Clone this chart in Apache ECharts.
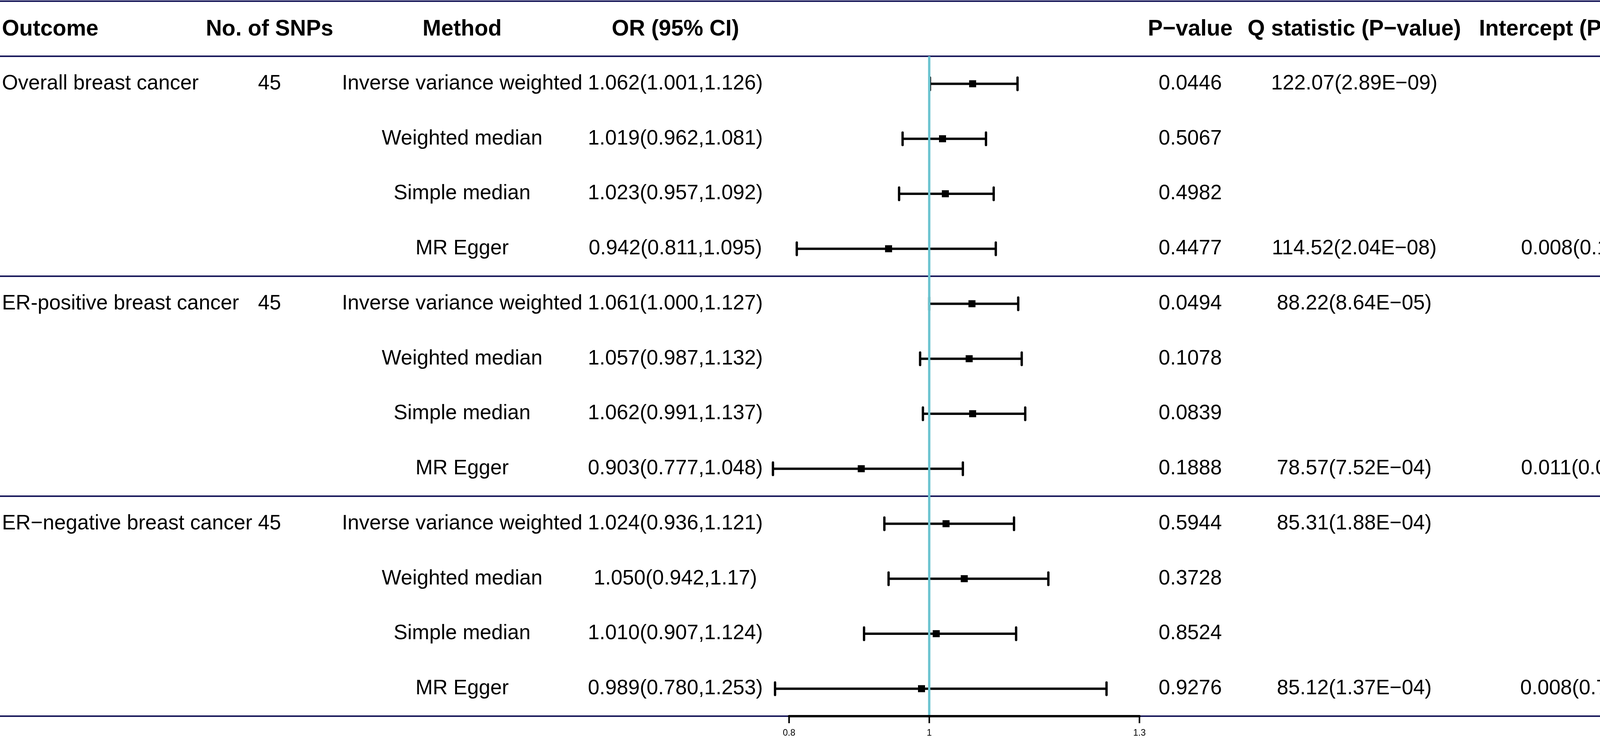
<!DOCTYPE html>
<html>
<head>
<meta charset="utf-8">
<title>MR forest plot</title>
<script src="https://cdn.jsdelivr.net/npm/echarts@6/dist/echarts.min.js"></script>
<style>
  html, body { margin: 0; padding: 0; background: #fff; }
  #main { width: 4316px; height: 1894px; }
</style>
</head>
<body>
<div id="main"></div>
<script>
// table data
var outcomes = ['Overall breast cancer', 'ER-positive breast cancer', 'ER\u2212negative breast cancer'];
var snpCounts = ['45', '45', '45'];
var methods = ['Inverse variance weighted', 'Weighted median', 'Simple median', 'MR Egger'];

var orEst  = [1.062, 1.019, 1.023, 0.942, 1.061, 1.057, 1.062, 0.903, 1.024, 1.050, 1.010, 0.989];
var ciLow  = [1.001, 0.962, 0.957, 0.811, 1.000, 0.987, 0.991, 0.777, 0.936, 0.942, 0.907, 0.780];
var ciHigh = [1.126, 1.081, 1.092, 1.095, 1.127, 1.132, 1.137, 1.048, 1.121, 1.170, 1.124, 1.253];

var orText = ['1.062(1.001,1.126)', '1.019(0.962,1.081)', '1.023(0.957,1.092)', '0.942(0.811,1.095)',
              '1.061(1.000,1.127)', '1.057(0.987,1.132)', '1.062(0.991,1.137)', '0.903(0.777,1.048)',
              '1.024(0.936,1.121)', '1.050(0.942,1.17)', '1.010(0.907,1.124)', '0.989(0.780,1.253)'];
var pText = ['0.0446', '0.5067', '0.4982', '0.4477', '0.0494', '0.1078', '0.0839', '0.1888',
             '0.5944', '0.3728', '0.8524', '0.9276'];
var qText = ['122.07(2.89E\u221209)', '', '', '114.52(2.04E\u221208)',
             '88.22(8.64E\u221205)', '', '', '78.57(7.52E\u221204)',
             '85.31(1.88E\u221204)', '', '', '85.12(1.37E\u221204)'];
var interceptText = ['', '', '', '0.008(0.110)', '', '', '', '0.011(0.056)', '', '', '', '0.008(0.752)'];

var headers = ['Outcome', 'No. of SNPs', 'Method', 'OR (95% CI)', 'P\u2212value',
               'Q statistic (P\u2212value)', 'Intercept (P\u2212value)'];
var xTicks = [0.8, 1, 1.3];

// layout
var FONT = '"Liberation Sans", Arial, sans-serif';
var colX = [5, 690, 1183, 1729, 3047, 3467, 4042];
var colAlign = ['left', 'center', 'center', 'center', 'center', 'center', 'center'];
var navy = '#1a1a5c';
var cyan = '#6cc4d0';

var rowIds = [];
for (var i = 0; i < orEst.length; i++) rowIds.push(String(i));

var myChart = echarts.init(document.getElementById('main'), null, { renderer: 'canvas' });

function txt(s, x, y, align) {
  return {
    type: 'text',
    style: { text: s, x: x, y: y, fill: '#000', fontSize: 53, fontFamily: FONT,
             align: align, verticalAlign: 'middle' }
  };
}

// table text + horizontal rules
function renderRow(params, api) {
  var i = api.value(1);
  var y = api.coord([1, i])[1];
  var band = api.size([0, 1])[1];
  var g = Math.floor(i / 4), m = i % 4;
  var kids = [];
  if (m === 0) {
    kids.push(txt(outcomes[g], colX[0], y, colAlign[0]));
    kids.push(txt(snpCounts[g], colX[1], y, colAlign[1]));
    kids.push({ type: 'line', shape: { x1: 0, y1: y - band / 2, x2: api.getWidth(), y2: y - band / 2 },
                style: { stroke: navy, lineWidth: 4 } });
  }
  if (i === orEst.length - 1) {
    kids.push({ type: 'line', shape: { x1: 0, y1: y + band / 2, x2: api.getWidth(), y2: y + band / 2 },
                style: { stroke: navy, lineWidth: 4 } });
  }
  kids.push(txt(methods[m], colX[2], y, colAlign[2]));
  kids.push(txt(orText[i], colX[3], y, colAlign[3]));
  kids.push(txt(pText[i], colX[4], y, colAlign[4]));
  if (qText[i]) kids.push(txt(qText[i], colX[5], y, colAlign[5]));
  if (interceptText[i]) kids.push(txt(interceptText[i], colX[6], y, colAlign[6]));
  return { type: 'group', children: kids };
}

// confidence interval + point estimate
function renderCI(params, api) {
  var row = api.value(0);
  var lo = api.coord([api.value(1), row]);
  var hi = api.coord([api.value(2), row]);
  var mid = api.coord([api.value(3), row]);
  var y = lo[1];
  var bar = { stroke: '#000', lineWidth: 6, lineCap: 'round' };
  return {
    type: 'group',
    children: [
      { type: 'line', shape: { x1: lo[0], y1: y, x2: hi[0], y2: y }, style: { stroke: '#000', lineWidth: 6 } },
      { type: 'line', shape: { x1: lo[0], y1: y - 16, x2: lo[0], y2: y + 16 }, style: bar },
      { type: 'line', shape: { x1: hi[0], y1: y - 16, x2: hi[0], y2: y + 16 }, style: bar },
      { type: 'rect', shape: { x: mid[0] - 9, y: y - 9, width: 18, height: 18 }, style: { fill: '#000' } }
    ]
  };
}

// vertical line at OR = 1
function renderRef(params, api) {
  var band = api.size([0, 1])[1];
  var top = api.coord([api.value(0), 0]);
  var bot = api.coord([api.value(0), orEst.length - 1]);
  return { type: 'line', shape: { x1: top[0], y1: top[1] - band / 2, x2: bot[0], y2: bot[1] + band / 2 },
           style: { stroke: cyan, lineWidth: 6 } };
}

var headerGraphics = headers.map(function (h, k) {
  return {
    type: 'text', silent: true,
    style: { text: h, x: colX[k], y: 75, fill: '#000', fontSize: 57, fontWeight: 'bold',
             fontFamily: FONT, align: colAlign[k], verticalAlign: 'middle' }
  };
});
headerGraphics.push({
  type: 'line', silent: true,
  shape: { x1: 0, y1: 3, x2: 4316, y2: 3 },
  style: { stroke: navy, lineWidth: 4 }
});

var option = {
  animation: false,
  backgroundColor: '#fff',
  graphic: headerGraphics,
  grid: { left: 2020, right: 1399, top: 144, bottom: 61 },
  xAxis: {
    type: 'value', min: 0.8, max: 1.3, z: 10,
    axisLine: { show: true, lineStyle: { color: '#000', width: 6 } },
    axisTick: { show: true, customValues: xTicks, length: 18, lineStyle: { color: '#000', width: 4 } },
    axisLabel: { customValues: xTicks, fontSize: 23, color: '#000', fontFamily: FONT, margin: 32,
                 formatter: function (v) { return String(v); } },
    splitLine: { show: false }
  },
  yAxis: {
    type: 'category', data: rowIds, inverse: true,
    axisLine: { show: false }, axisTick: { show: false }, axisLabel: { show: false },
    splitLine: { show: false }
  },
  series: [
    {
      type: 'custom', name: 'table', z: 1, silent: true,
      renderItem: renderRow,
      encode: { x: 0, y: 1 },
      data: rowIds.map(function (r, i) { return [1, i]; })
    },
    {
      type: 'custom', name: 'OR', z: 5, silent: true,
      renderItem: renderCI,
      encode: { x: [1, 2, 3], y: 0 },
      data: rowIds.map(function (r, i) { return [i, ciLow[i], ciHigh[i], orEst[i]]; })
    },
    {
      type: 'custom', name: 'ref', z: 8, silent: true,
      renderItem: renderRef,
      encode: { x: 0, y: 1 },
      data: [[1, 0]]
    }
  ]
};

myChart.setOption(option);
</script>
</body>
</html>
